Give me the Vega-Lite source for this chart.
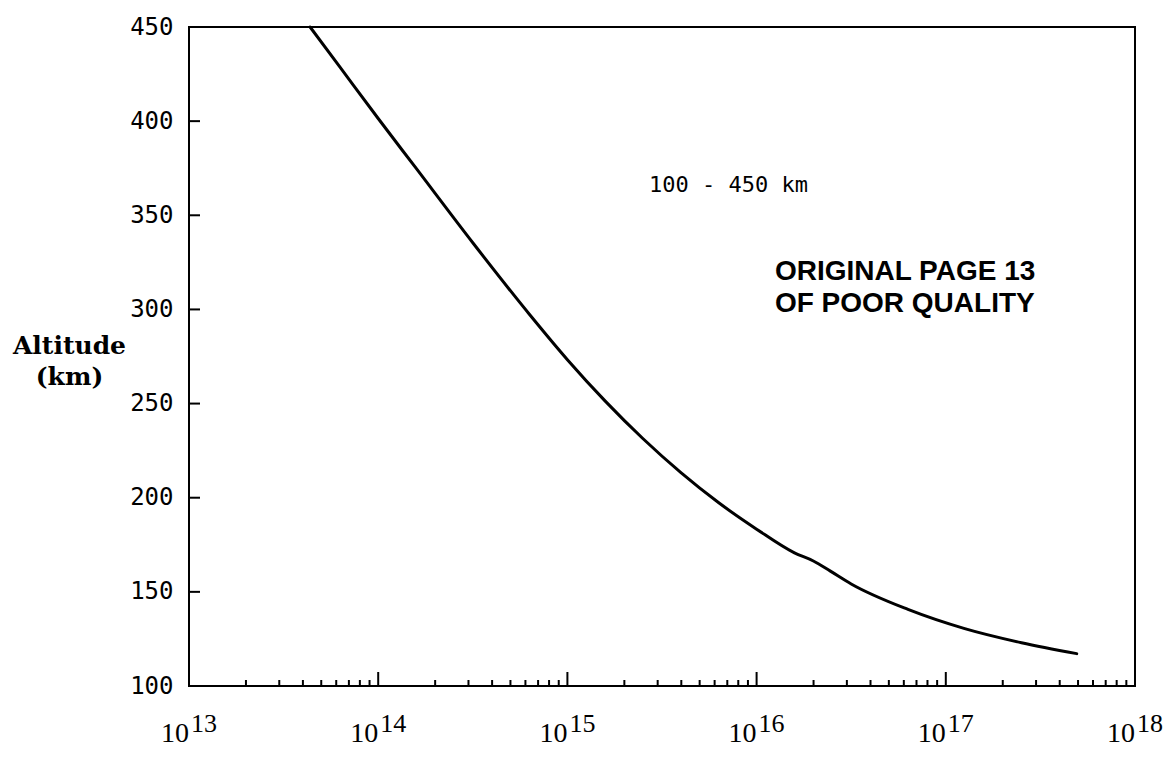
{
  "$schema": "https://vega.github.io/schema/vega-lite/v6.json",
  "width": 946,
  "height": 659,
  "autosize": "none",
  "padding": {"left": 189, "top": 27, "right": 38, "bottom": 75},
  "background": "white",
  "config": {
    "view": {"stroke": "black", "strokeWidth": 2},
    "axis": {"domain": false, "grid": false, "ticks": false, "labelColor": "black"}
  },
  "layer": [
    {
      "data": {"values": [
        {"density": 4.365e13, "alt": 450},
        {"density": 6.310e13, "alt": 428.4},
        {"density": 1.000e14, "alt": 401.4},
        {"density": 1.585e14, "alt": 375.0},
        {"density": 3.162e14, "alt": 335.4},
        {"density": 6.310e14, "alt": 297.3},
        {"density": 1.000e15, "alt": 273.3},
        {"density": 1.585e15, "alt": 251.3},
        {"density": 2.512e15, "alt": 231.3},
        {"density": 3.981e15, "alt": 213.3},
        {"density": 6.310e15, "alt": 197.3},
        {"density": 1.000e16, "alt": 183.3},
        {"density": 1.585e16, "alt": 170.7},
        {"density": 1.995e16, "alt": 166.4},
        {"density": 2.455e16, "alt": 161.0},
        {"density": 3.162e16, "alt": 154.2},
        {"density": 6.310e16, "alt": 140.7},
        {"density": 1.259e17, "alt": 130.5},
        {"density": 2.512e17, "alt": 123.0},
        {"density": 4.920e17, "alt": 117.2}
      ]},
      "mark": {"type": "line", "color": "black", "strokeWidth": 3, "interpolate": "monotone", "strokeCap": "round"},
      "encoding": {
        "x": {
          "field": "density", "type": "quantitative",
          "scale": {"type": "log", "domain": [1e13, 1e18], "nice": false},
          "axis": {"title": null, "labels": false}
        },
        "y": {
          "field": "alt", "type": "quantitative",
          "scale": {"domain": [100, 450], "nice": false, "zero": false},
          "axis": {
            "title": ["Altitude", "(km)"],
            "titleFont": "DejaVu Serif",
            "titleFontWeight": "bold",
            "titleFontSize": 25,
            "titleColor": "black",
            "titleAngle": 0,
            "titleAlign": "center",
            "titleBaseline": "alphabetic",
            "titleX": -120,
            "titleY": 326,
            "titleLineHeight": 31,
            "values": [100, 150, 200, 250, 300, 350, 400, 450],
            "labelPadding": 16,
            "labelFont": "DejaVu Sans Mono",
            "labelFontSize": 24
          }
        }
      }
    },
    {
      "data": {"values": [
        {"density": 2e13}, {"density": 3e13}, {"density": 4e13}, {"density": 5e13}, {"density": 6e13}, {"density": 7e13}, {"density": 8e13}, {"density": 9e13},
        {"density": 2e14}, {"density": 3e14}, {"density": 4e14}, {"density": 5e14}, {"density": 6e14}, {"density": 7e14}, {"density": 8e14}, {"density": 9e14},
        {"density": 2e15}, {"density": 3e15}, {"density": 4e15}, {"density": 5e15}, {"density": 6e15}, {"density": 7e15}, {"density": 8e15}, {"density": 9e15},
        {"density": 2e16}, {"density": 3e16}, {"density": 4e16}, {"density": 5e16}, {"density": 6e16}, {"density": 7e16}, {"density": 8e16}, {"density": 9e16},
        {"density": 2e17}, {"density": 3e17}, {"density": 4e17}, {"density": 5e17}, {"density": 6e17}, {"density": 7e17}, {"density": 8e17}, {"density": 9e17}
      ]},
      "mark": {"type": "rule", "color": "black", "strokeWidth": 2, "y2Offset": -6},
      "encoding": {
        "x": {"field": "density", "type": "quantitative"},
        "y": {"datum": 100},
        "y2": {"datum": 100}
      }
    },
    {
      "data": {"values": [
        {"density": 1e14}, {"density": 1e15}, {"density": 1e16}, {"density": 1e17}
      ]},
      "mark": {"type": "rule", "color": "black", "strokeWidth": 2, "y2Offset": -14},
      "encoding": {
        "x": {"field": "density", "type": "quantitative"},
        "y": {"datum": 100},
        "y2": {"datum": 100}
      }
    },
    {
      "data": {"values": [
        {"alt": 150}, {"alt": 200}, {"alt": 250}, {"alt": 300}, {"alt": 350}, {"alt": 400}
      ]},
      "mark": {"type": "rule", "color": "black", "strokeWidth": 2, "x2Offset": 11},
      "encoding": {
        "y": {"field": "alt", "type": "quantitative"},
        "x": {"datum": 1e13},
        "x2": {"datum": 1e13}
      }
    },
    {
      "data": {"values": [
        {"density": 1e13, "alt": 100, "exp": "13"},
        {"density": 1e14, "alt": 100, "exp": "14"},
        {"density": 1e15, "alt": 100, "exp": "15"},
        {"density": 1e16, "alt": 100, "exp": "16"},
        {"density": 1e17, "alt": 100, "exp": "17"},
        {"density": 1e18, "alt": 100, "exp": "18"}
      ]},
      "layer": [
        {
          "mark": {"type": "text", "font": "Liberation Serif", "fontSize": 28, "align": "right", "baseline": "alphabetic", "dx": 0, "dy": 56, "color": "black"},
          "encoding": {
            "x": {"field": "density", "type": "quantitative"},
            "y": {"field": "alt", "type": "quantitative"},
            "text": {"value": "10"}
          }
        },
        {
          "mark": {"type": "text", "font": "Liberation Serif", "fontSize": 26, "align": "left", "baseline": "alphabetic", "dx": 2, "dy": 46, "color": "black"},
          "encoding": {
            "x": {"field": "density", "type": "quantitative"},
            "y": {"field": "alt", "type": "quantitative"},
            "text": {"field": "exp"}
          }
        }
      ]
    },
    {
      "data": {"values": [
        {"note": "100 - 450 km", "density": 2.7e15, "alt": 366}
      ]},
      "mark": {"type": "text", "font": "DejaVu Sans Mono", "fontSize": 22, "align": "left", "baseline": "middle", "color": "black"},
      "encoding": {
        "x": {"field": "density", "type": "quantitative"},
        "y": {"field": "alt", "type": "quantitative"},
        "text": {"field": "note"}
      }
    },
    {
      "data": {"values": [
        {"stamp": ["ORIGINAL PAGE 13", "OF POOR QUALITY"], "density": 1.25e16, "alt": 315.6}
      ]},
      "mark": {"type": "text", "font": "Liberation Sans", "fontWeight": "bold", "fontSize": 28, "align": "left", "baseline": "alphabetic", "lineHeight": 32, "color": "black"},
      "encoding": {
        "x": {"field": "density", "type": "quantitative"},
        "y": {"field": "alt", "type": "quantitative"},
        "text": {"field": "stamp"}
      }
    }
  ]
}
